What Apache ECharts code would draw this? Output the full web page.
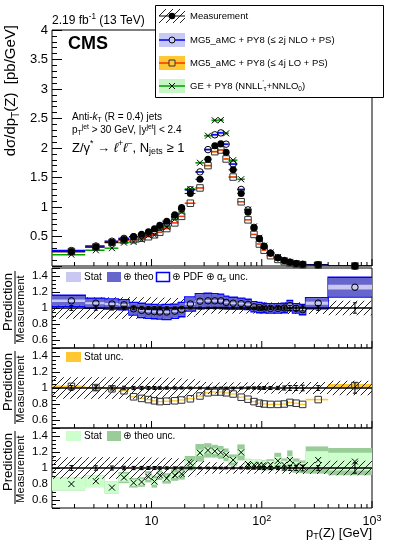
<!DOCTYPE html>
<html>
<head>
<meta charset="utf-8">
<script src="https://cdn.jsdelivr.net/npm/echarts@6.0.0/dist/echarts.min.js"></script>
<style>
html,body{margin:0;padding:0;background:#ffffff;}
#chart{width:399px;height:551px;}
</style>
</head>
<body>
<div id="chart"></div>
<script>
// ---------------- data ----------------
const binEdges = [1.25, 2.5, 3.75, 5, 6.25, 7.5, 8.75, 10, 11.25, 12.5, 15, 17.5, 20, 25, 30, 35, 40, 45, 50, 60, 70, 80, 90, 100, 110, 130, 150, 170, 190, 220, 250, 400, 1000];
const measured = [0.24, 0.32, 0.40, 0.45, 0.50, 0.54, 0.58, 0.63, 0.69, 0.76, 0.87, 0.99, 1.23, 1.47, 1.81, 2.04, 2.07, 1.93, 1.63, 1.23, 0.91, 0.645, 0.46, 0.335, 0.22, 0.14, 0.093, 0.064, 0.042, 0.028, 0.02, 0.0008];
const measTotUnc = [0.135, 0.135, 0.135, 0.135, 0.135, 0.135, 0.135, 0.13, 0.13, 0.13, 0.125, 0.12, 0.11, 0.09, 0.075, 0.07, 0.07, 0.07, 0.07, 0.07, 0.07, 0.07, 0.07, 0.07, 0.07, 0.07, 0.07, 0.075, 0.075, 0.075, 0.075, 0.09];
const measStatUnc = [0.03, 0.028, 0.025, 0.022, 0.02, 0.02, 0.018, 0.018, 0.016, 0.015, 0.014, 0.013, 0.012, 0.012, 0.011, 0.011, 0.011, 0.011, 0.011, 0.012, 0.013, 0.014, 0.016, 0.018, 0.018, 0.02, 0.025, 0.03, 0.03, 0.035, 0.03, 0.065];
const nloRatio = [1.09, 1.06, 1.05, 1.04, 0.99, 0.97, 0.96, 0.955, 0.95, 0.95, 0.96, 0.98, 1.05, 1.085, 1.09, 1.09, 1.09, 1.07, 1.06, 1.055, 1.045, 1.015, 1.005, 1.0, 0.995, 0.995, 1.0, 1.03, 0.995, 0.98, 1.06, 1.26];
const nloStat = [0.015, 0.014, 0.013, 0.012, 0.012, 0.012, 0.012, 0.012, 0.012, 0.012, 0.012, 0.012, 0.012, 0.012, 0.012, 0.012, 0.012, 0.012, 0.012, 0.012, 0.012, 0.012, 0.012, 0.012, 0.012, 0.012, 0.012, 0.015, 0.015, 0.015, 0.02, 0.03];
const nloTheo = [0.06, 0.055, 0.055, 0.055, 0.07, 0.08, 0.08, 0.08, 0.08, 0.085, 0.08, 0.08, 0.08, 0.085, 0.085, 0.08, 0.075, 0.07, 0.065, 0.06, 0.055, 0.055, 0.055, 0.05, 0.05, 0.05, 0.05, 0.055, 0.05, 0.055, 0.06, 0.115];
const nloPdf = [0.068, 0.063, 0.063, 0.063, 0.078, 0.088, 0.088, 0.088, 0.088, 0.093, 0.088, 0.088, 0.088, 0.093, 0.093, 0.088, 0.083, 0.078, 0.073, 0.068, 0.063, 0.063, 0.063, 0.058, 0.058, 0.058, 0.058, 0.063, 0.058, 0.063, 0.068, 0.123];
const loRatio = [1.02, 1.005, 0.99, 0.965, 0.89, 0.87, 0.855, 0.84, 0.83, 0.835, 0.84, 0.85, 0.865, 0.90, 0.94, 0.95, 0.95, 0.94, 0.925, 0.885, 0.86, 0.83, 0.81, 0.80, 0.795, 0.795, 0.80, 0.82, 0.81, 0.795, 0.855, 1.03];
const loStat = [0.01, 0.009, 0.008, 0.008, 0.008, 0.008, 0.008, 0.008, 0.008, 0.008, 0.008, 0.008, 0.008, 0.008, 0.008, 0.008, 0.008, 0.008, 0.008, 0.008, 0.008, 0.008, 0.008, 0.008, 0.008, 0.008, 0.008, 0.008, 0.008, 0.008, 0.01, 0.02];
const geRatio = [0.80, 0.835, 0.755, 0.88, 0.815, 0.825, 0.89, 0.83, 0.91, 0.87, 0.91, 0.925, 1.06, 1.19, 1.22, 1.21, 1.195, 1.165, 1.10, 1.195, 1.05, 1.04, 1.04, 1.03, 1.04, 1.09, 1.04, 1.10, 1.03, 1.015, 1.10, 1.08];
const geStat = [0.08, 0.075, 0.075, 0.05, 0.04, 0.04, 0.04, 0.04, 0.035, 0.035, 0.035, 0.035, 0.035, 0.04, 0.035, 0.035, 0.035, 0.035, 0.035, 0.04, 0.06, 0.06, 0.06, 0.06, 0.05, 0.05, 0.05, 0.05, 0.05, 0.05, 0.11, 0.11];
const geTot = [0.08, 0.075, 0.075, 0.07, 0.06, 0.06, 0.07, 0.075, 0.06, 0.065, 0.07, 0.07, 0.09, 0.11, 0.09, 0.08, 0.08, 0.08, 0.07, 0.1, 0.065, 0.065, 0.065, 0.065, 0.07, 0.1, 0.08, 0.12, 0.09, 0.08, 0.17, 0.17];
const xTickMajor = [10, 100, 1000];
const xTickMinor = [2, 3, 4, 5, 6, 7, 8, 9, 20, 30, 40, 50, 60, 70, 80, 90, 200, 300, 400, 500, 600, 700, 800, 900];

// ---------------- helpers ----------------
const FONT = "'Liberation Sans', 'DejaVu Sans', Arial, sans-serif";
const nb = measured.length;
const bLo = binEdges.slice(0, nb);
const bHi = binEdges.slice(1, nb + 1);
const bMid = bLo.map((l, i) => (l + bHi[i]) / 2);

function makeHatch() {
  const s = 7;
  const c = document.createElement('canvas');
  c.width = s; c.height = s;
  const g = c.getContext('2d');
  g.strokeStyle = '#222'; g.lineWidth = 1;
  g.beginPath();
  g.moveTo(0, s); g.lineTo(s, 0);
  g.moveTo(-1, 1); g.lineTo(1, -1);
  g.moveTo(s - 1, s + 1); g.lineTo(s + 1, s - 1);
  g.stroke();
  return { image: c, repeat: 'repeat' };
}
const HATCH = makeHatch();

const series = [];
function boxes(g, rows, style, z) {
  series.push({
    type: 'custom', xAxisIndex: g, yAxisIndex: g, z: z, silent: true, clip: true, data: rows,
    renderItem: function (p, api) {
      const a = api.coord([api.value(0), api.value(3)]);
      const b = api.coord([api.value(1), api.value(2)]);
      return { type: 'rect', shape: { x: a[0], y: a[1], width: b[0] - a[0], height: b[1] - a[1] }, style: style };
    }
  });
}
function hlines(g, rows, style, z) {
  series.push({
    type: 'custom', xAxisIndex: g, yAxisIndex: g, z: z, silent: true, clip: true, data: rows,
    renderItem: function (p, api) {
      const a = api.coord([api.value(0), api.value(2)]);
      const b = api.coord([api.value(1), api.value(2)]);
      return { type: 'line', shape: { x1: a[0], y1: a[1], x2: b[0], y2: b[1] }, style: style };
    }
  });
}
function errbars(g, rows, style, z, cap) {
  series.push({
    type: 'custom', xAxisIndex: g, yAxisIndex: g, z: z, silent: true, clip: true, data: rows,
    renderItem: function (p, api) {
      const a = api.coord([api.value(0), api.value(1)]);
      const b = api.coord([api.value(0), api.value(2)]);
      const ch = [{ type: 'line', shape: { x1: a[0], y1: a[1], x2: b[0], y2: b[1] }, style: style }];
      if (cap) {
        ch.push({ type: 'line', shape: { x1: a[0] - cap, y1: a[1], x2: a[0] + cap, y2: a[1] }, style: style });
        ch.push({ type: 'line', shape: { x1: b[0] - cap, y1: b[1], x2: b[0] + cap, y2: b[1] }, style: style });
      }
      return { type: 'group', children: ch };
    }
  });
}
function crosses(g, rows, size, style, z) {
  series.push({
    type: 'custom', xAxisIndex: g, yAxisIndex: g, z: z, silent: true, clip: true, data: rows,
    renderItem: function (p, api) {
      const c = api.coord([api.value(0), api.value(1)]);
      const h = size / 2;
      return { type: 'group', children: [
        { type: 'line', shape: { x1: c[0] - h, y1: c[1] - h, x2: c[0] + h, y2: c[1] + h }, style: style },
        { type: 'line', shape: { x1: c[0] - h, y1: c[1] + h, x2: c[0] + h, y2: c[1] - h }, style: style }
      ] };
    }
  });
}
function dots(g, rows, symbol, size, itemStyle, z) {
  series.push({
    type: 'scatter', xAxisIndex: g, yAxisIndex: g, z: z, silent: true, symbol: symbol, symbolSize: size,
    itemStyle: Object.assign({ opacity: 1 }, itemStyle), data: rows
  });
}
function xticks(g, yBase) {
  [[xTickMinor, 4], [xTickMajor, 7]].forEach(function (d) {
    const len = d[1];
    series.push({
      type: 'custom', xAxisIndex: g, yAxisIndex: g, z: 9, silent: true, clip: false,
      data: d[0].map(v => [v, yBase]),
      renderItem: function (p, api) {
        const c = api.coord([api.value(0), api.value(1)]);
        return { type: 'line', shape: { x1: c[0], y1: c[1], x2: c[0], y2: c[1] - len }, style: { stroke: '#000', lineWidth: 1 } };
      }
    });
  });
}
const band = (i, center, half) => [bLo[i], bHi[i], center - half, center + half];

// ---------------- main panel ----------------
const predNLO = measured.map((m, i) => m * nloRatio[i]);
const predLO = measured.map((m, i) => m * loRatio[i]);
const predGE = measured.map((m, i) => m * geRatio[i]);

boxes(0, predGE.map((v, i) => band(i, v, v * 0.012)), { fill: '#c8f5c8' }, 2);
boxes(0, predLO.map((v, i) => band(i, v, v * loStat[i])), { fill: '#ffc832' }, 2);
boxes(0, predNLO.map((v, i) => band(i, v, v * nloStat[i])), { fill: '#c8c8f5' }, 2);
hlines(0, predGE.map((v, i) => [bLo[i], bHi[i], v]), { stroke: '#00a000', lineWidth: 1.5 }, 3);
hlines(0, predLO.map((v, i) => [bLo[i], bHi[i], v]), { stroke: '#ff3000', lineWidth: 1.5 }, 3);
hlines(0, predNLO.map((v, i) => [bLo[i], bHi[i], v]), { stroke: '#0000ff', lineWidth: 1.5 }, 3);
hlines(0, measured.map((m, i) => [bLo[i], bHi[i], m]), { stroke: '#000', lineWidth: 1 }, 5);
errbars(0, measured.map((m, i) => [bMid[i], m * (1 - measStatUnc[i]), m * (1 + measStatUnc[i])]), { stroke: '#000', lineWidth: 1 }, 5, 0);
dots(0, predNLO.map((v, i) => [bMid[i], v]), 'circle', 6.5, { color: 'rgba(0,0,0,0)', borderColor: '#000', borderWidth: 1 }, 6);
dots(0, predLO.map((v, i) => [bMid[i], v]), 'rect', 6.5, { color: 'rgba(0,0,0,0)', borderColor: '#333', borderWidth: 1 }, 6);
crosses(0, predGE.map((v, i) => [bMid[i], v]), 6, { stroke: '#000', lineWidth: 1 }, 6);
dots(0, measured.map((m, i) => [bMid[i], m]), 'circle', 7, { color: '#000' }, 7);
xticks(0, 0);

// ---------------- ratio panels ----------------
function refAndMeas(g, zHatch) {
  boxes(g, measTotUnc.map((u, i) => band(i, 1, u)), { fill: HATCH }, zHatch);
  hlines(g, [[1.25, 1000, 1]], { stroke: '#000', lineWidth: 1.3 }, 6);
  errbars(g, measStatUnc.map((u, i) => [bMid[i], 1 - u, 1 + u]), { stroke: '#000', lineWidth: 1 }, 7, 2);
  dots(g, bMid.map(x => [x, 1]), 'circle', 2, { color: '#000' }, 7);
  xticks(g, 0.5);
}
// panel 1: MG5 NLO
boxes(1, nloPdf.map((u, i) => band(i, nloRatio[i], u)), { fill: 'none', stroke: '#0000ff', lineWidth: 1.5 }, 2);
boxes(1, nloTheo.map((u, i) => band(i, nloRatio[i], u)), { fill: '#6666cc' }, 3);
boxes(1, nloStat.map((u, i) => band(i, nloRatio[i], u)), { fill: '#c8c8f0' }, 4);
refAndMeas(1, 1);
dots(1, nloRatio.map((v, i) => [bMid[i], v]), 'circle', 6.5, { color: 'rgba(0,0,0,0)', borderColor: '#000', borderWidth: 1 }, 8);
// panel 2: MG5 LO
boxes(2, loStat.map((u, i) => band(i, loRatio[i], u)), { fill: '#ffc832' }, 2);
refAndMeas(2, 4);
dots(2, loRatio.map((v, i) => [bMid[i], v]), 'rect', 6.5, { color: 'rgba(0,0,0,0)', borderColor: '#333', borderWidth: 1 }, 8);
// panel 3: GE
boxes(3, geTot.map((u, i) => band(i, geRatio[i], u)), { fill: '#99cc99' }, 2);
boxes(3, geStat.map((u, i) => band(i, geRatio[i], u)), { fill: '#ccffcc' }, 3);
refAndMeas(3, 4);
crosses(3, geRatio.map((v, i) => [bMid[i], v]), 6, { stroke: '#000', lineWidth: 1 }, 8);

// ---------------- axes ----------------
const gridBase = { show: true, borderColor: '#000', borderWidth: 1, backgroundColor: 'transparent', containLabel: false, outerBoundsMode: 'none' };
const grids = [
  { left: 52, top: 30, width: 320, height: 236 },
  { left: 52, top: 268, width: 320, height: 80 },
  { left: 52, top: 348, width: 320, height: 80 },
  { left: 52, top: 428, width: 320, height: 80 }
].map(g => Object.assign({}, gridBase, g));

const xAxes = [0, 1, 2, 3].map(i => ({
  type: 'log', logBase: 10, gridIndex: i, min: 1.25, max: 1000,
  axisLine: { show: false }, axisTick: { show: false }, splitLine: { show: false },
  minorTick: { show: false }, minorSplitLine: { show: false },
  axisLabel: i === 3 ? {
    show: true, margin: 6, color: '#000',
    formatter: function (v) {
      const l = Math.log10(v), k = Math.round(l);
      if (Math.abs(l - k) > 1e-6 || k < 1) return '';
      return k === 1 ? '{n|10}' : '{n|10}{s|' + k + '}';
    },
    rich: {
      n: { fontSize: 12.5, fontFamily: FONT, color: '#000', lineHeight: 16 },
      s: { fontSize: 9, fontFamily: FONT, color: '#000', lineHeight: 8, verticalAlign: 'top' }
    }
  } : { show: false }
}));

const yMain = {
  type: 'value', gridIndex: 0, min: 0, max: 4, interval: 0.5,
  axisLine: { show: false },
  axisTick: { show: true, inside: true, length: 10, lineStyle: { color: '#000', width: 1 } },
  minorTick: { show: true, splitNumber: 5, length: 5, lineStyle: { color: '#000', width: 1 } },
  splitLine: { show: false }, minorSplitLine: { show: false },
  axisLabel: { fontSize: 13, color: '#000', fontFamily: FONT, margin: 4, formatter: v => (v === 0 ? '' : String(v)) }
};
const yRatio = [1, 2, 3].map(i => ({
  type: 'value', gridIndex: i, min: 0.5, max: 1.5, splitNumber: 5,
  axisLine: { show: false },
  axisTick: { show: true, inside: true, length: 8, lineStyle: { color: '#000', width: 1 } },
  minorTick: { show: true, splitNumber: 4, length: 4, lineStyle: { color: '#000', width: 1 } },
  splitLine: { show: false }, minorSplitLine: { show: false },
  axisLabel: { fontSize: 11.5, color: '#000', fontFamily: FONT, margin: 4, showMinLabel: false, showMaxLabel: false,
    formatter: v => String(Math.round(v * 10) / 10) }
}));

// ---------------- texts / legends ----------------
function R(size) {
  const base = { fontFamily: FONT, fill: '#000', color: '#000' };
  return {
    n: Object.assign({ fontSize: size, lineHeight: size * 1.3 }, base),
    b: Object.assign({ fontSize: size, lineHeight: size * 1.3, fontWeight: 'bold' }, base),
    i: Object.assign({ fontSize: size, lineHeight: size * 1.3, fontStyle: 'italic' }, base),
    sp: Object.assign({ fontSize: size * 0.68, lineHeight: size * 0.6, verticalAlign: 'top' }, base),
    sb: Object.assign({ fontSize: size * 0.68, lineHeight: size * 0.6, verticalAlign: 'bottom' }, base)
  };
}
function rtext(x, y, text, size, align, rot) {
  const el = {
    type: 'text', x: x, y: y, z: 60, silent: true,
    style: { text: text, rich: R(size), fontSize: size, fontFamily: FONT, fill: '#000', align: align || 'left', verticalAlign: 'middle' }
  };
  if (rot) el.rotation = rot;
  return el;
}
function rect(x, y, w, h, style) {
  return { type: 'rect', z: 55, silent: true, shape: { x: x, y: y, width: w, height: h }, style: style };
}
function line(x1, y1, x2, y2, style) {
  return { type: 'line', z: 58, silent: true, shape: { x1: x1, y1: y1, x2: x2, y2: y2 }, style: style };
}
const G = [];
G.push(rtext(52, 21, '{n|2.19 fb}{sp|-1}{n| (13 TeV)}', 12));
G.push({ type: 'text', x: 68, y: 44, z: 60, silent: true, style: { text: 'CMS', fontSize: 18, fontWeight: 'bold', fontFamily: FONT, fill: '#000', verticalAlign: 'middle' } });
G.push(rtext(72, 117, '{n|Anti-}{i|k}{sb|T}{n| (R = 0.4) jets}', 10));
G.push(rtext(72, 130, '{n|p}{sb|T}{sp|jet}{n| > 30 GeV, |y}{sp|jet}{n|| < 2.4}', 10));
G.push(rtext(72, 148, '{n|Z/γ}{sp|*}{n| → }{i|ℓ}{sp|+}{i|ℓ}{sp|−}{n|, N}{sb|jets}{n| ≥ 1}', 13));
G.push(rtext(11, 25, '{n|dσ/dp}{sb|T}{n|(Z)  [pb/GeV]}', 15, 'right', Math.PI / 2));
G.push(rtext(372, 533, '{n|p}{sb|T}{n|(Z) [GeV]}', 13, 'right'));
[308, 388, 468].forEach(function (c) {
  G.push({ type: 'text', x: 8, y: c - 6, rotation: Math.PI / 2, z: 60, silent: true,
    style: { text: 'Prediction', fontSize: 13, fontFamily: FONT, fill: '#000', align: 'center', verticalAlign: 'middle' } });
  G.push({ type: 'text', x: 21, y: c + 1, rotation: Math.PI / 2, z: 60, silent: true,
    style: { text: 'Measurement', fontSize: 11, fontFamily: FONT, fill: '#000', align: 'center', verticalAlign: 'middle' } });
  G.push(line(15, c - 37, 15, c + 36, { stroke: '#000', lineWidth: 1 }));
});

// main legend
G.push(rect(155.5, 5.5, 228, 92, { fill: '#fff', stroke: '#000', lineWidth: 1 }));
const legY = [16, 40, 63, 86];
const sx = 159, sw = 26, sc = 172;
G.push(rect(sx, legY[0] - 7, sw, 14, { fill: HATCH }));
G.push(line(sx, legY[0], sx + sw, legY[0], { stroke: '#000', lineWidth: 1 }));
G.push({ type: 'circle', z: 59, silent: true, shape: { cx: sc, cy: legY[0], r: 3.3 }, style: { fill: '#000' } });
G.push(rtext(190, legY[0], '{n|Measurement}', 9.5));
G.push(rect(sx, legY[1] - 7, sw, 14, { fill: '#c8c8f5' }));
G.push(line(sx, legY[1], sx + sw, legY[1], { stroke: '#0000ff', lineWidth: 1.5 }));
G.push({ type: 'circle', z: 59, silent: true, shape: { cx: sc, cy: legY[1], r: 3 }, style: { fill: '#c8c8f5', stroke: '#000', lineWidth: 1 } });
G.push(rtext(190, legY[1], '{n|MG5_aMC + PY8 (≤ 2j NLO + PS)}', 9.5));
G.push(rect(sx, legY[2] - 7, sw, 14, { fill: '#ffc832' }));
G.push(line(sx, legY[2], sx + sw, legY[2], { stroke: '#ff3000', lineWidth: 1.5 }));
G.push({ type: 'rect', z: 59, silent: true, shape: { x: sc - 3, y: legY[2] - 3, width: 6, height: 6 }, style: { fill: '#ffc832', stroke: '#333', lineWidth: 1 } });
G.push(rtext(190, legY[2], '{n|MG5_aMC + PY8 (≤ 4j LO + PS)}', 9.5));
G.push(rect(sx, legY[3] - 7, sw, 14, { fill: '#c8f5c8' }));
G.push(line(sx, legY[3], sx + sw, legY[3], { stroke: '#00a000', lineWidth: 1.5 }));
G.push(line(sc - 3, legY[3] - 3, sc + 3, legY[3] + 3, { stroke: '#000', lineWidth: 1 }));
G.push(line(sc - 3, legY[3] + 3, sc + 3, legY[3] - 3, { stroke: '#000', lineWidth: 1 }));
G.push(rtext(190, legY[3], "{n|GE + PY8 (NNLL}{sp|'}{sb|τ}{n|+NNLO}{sb|0}{n|)}", 9.5));

// ratio legends
G.push(rect(66, 272, 15, 10, { fill: '#c8c8f0' }));
G.push(rtext(84, 277, '{n|Stat}', 10));
G.push(rect(107, 272, 14, 10, { fill: '#6666cc' }));
G.push(rtext(123, 277, '{n|⊕ theo}', 10));
G.push(rect(156.5, 272.5, 13, 9, { fill: '#fff', stroke: '#0000ff', lineWidth: 1.5 }));
G.push(rtext(172, 277, '{n|⊕ PDF ⊕ α}{sb|s}{n| unc.}', 10));
G.push(rect(66, 352, 15, 10, { fill: '#ffc832' }));
G.push(rtext(84, 357, '{n|Stat unc.}', 10));
G.push(rect(66, 431, 15, 10, { fill: '#ccffcc' }));
G.push(rtext(84, 436, '{n|Stat}', 10));
G.push(rect(107, 431, 14, 10, { fill: '#99cc99' }));
G.push(rtext(123, 436, '{n|⊕ theo unc.}', 10));

const chart = echarts.init(document.getElementById('chart'), null, { renderer: 'canvas' });
chart.setOption({
  animation: false,
  backgroundColor: '#ffffff',
  textStyle: { fontFamily: FONT },
  grid: grids,
  xAxis: xAxes,
  yAxis: [yMain].concat(yRatio),
  series: series,
  graphic: { elements: G }
});
</script>
</body>
</html>
